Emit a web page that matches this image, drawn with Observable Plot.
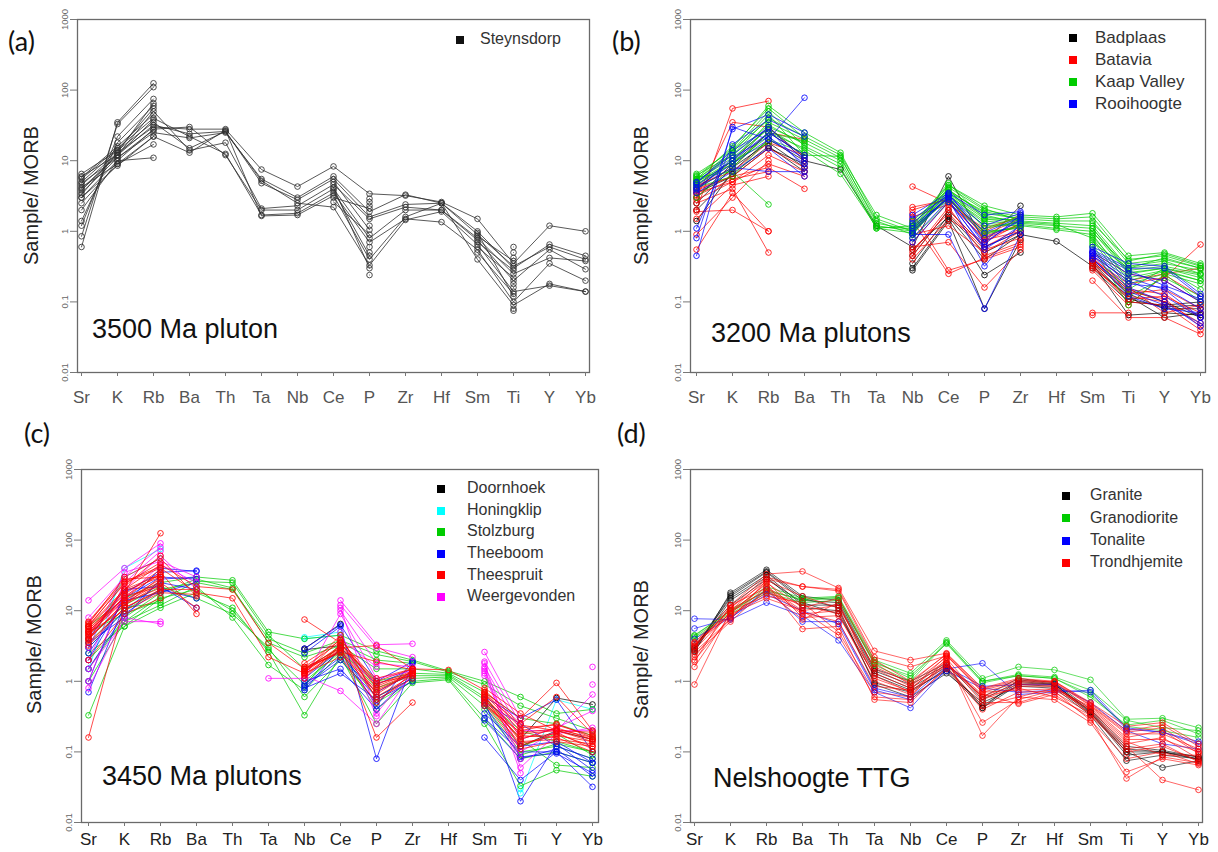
<!DOCTYPE html>
<html>
<head>
<meta charset="utf-8">
<script src="https://cdn.jsdelivr.net/npm/d3@7"></script>
<script src="https://cdn.jsdelivr.net/npm/@observablehq/plot@0.6"></script>
<style>
  html, body { margin: 0; padding: 0; background: #fff; }
  #wrap { position: relative; width: 1218px; height: 852px; background: #fff; font-family: "Liberation Sans", Arial, sans-serif; overflow: hidden; }
  .panel { position: absolute; }
  .abs { position: absolute; white-space: nowrap; }
  .plabel { font-family: Lato, "Open Sans", sans-serif; font-size: 27px; color: #111; }
  .ylab { font-size: 20px; color: #222; transform: rotate(-90deg); transform-origin: center center; }
  .ptitle { font-size: 27px; color: #111; }
  .leg { font-size: 16px; color: #333; line-height: 1; }
  .sq { position: absolute; width: 8px; height: 8px; }
</style>
</head>
<body>
<div id="wrap"></div>
<script>
const _ = null;
const elements = ["Sr","K","Rb","Ba","Th","Ta","Nb","Ce","P","Zr","Hf","Sm","Ti","Y","Yb"];
const yTicks = [0.01, 0.1, 1, 10, 100, 1000];
const yTickLabels = ["0.01", "0.1", "1", "10", "100", "1000"];

// ---------- (a) 3500 Ma pluton ----------
const steynsdorp = [
  [4.5,13,30,28,28,7.5,4.3,8.3,3.4,3.2,2.6,1.5,0.35,1.2,1.0],
  [3.5,11,25,21,25,5.5,3.0,6.0,1.9,3.3,2.5,1.0,0.30,0.65,0.45],
  [5.0,14,35,15,26,4.8,2.8,5.5,1.6,2.4,2.5,0.9,0.32,0.60,0.40],
  [4.0,12,50,14,18,2.1,2.3,4.6,1.5,2.2,2.0,0.8,0.25,0.42,0.38],
  [3.0,10,28,30,12,2.0,2.0,4.0,0.8,2.0,2.0,0.75,0.20,0.55,0.29],
  [5.5,15,40,22,12.5,1.7,1.8,3.5,0.7,1.5,1.35,0.55,0.10,0.35,0.20],
  [4.2,9,22,13,27,1.65,1.7,3.2,0.4,1.6,2.5,0.4,0.09,0.18,0.14],
  [3.8,12,32,24,26,5.2,2.5,2.2,0.33,1.45,1.9,0.65,0.14,0.17,0.14],
  [0.6,35,125,_,_,_,_,_,2.9,_,_,_,0.60,_,_],
  [0.85,33,110,_,_,_,_,_,2.6,_,_,_,0.50,_,_],
  [1.2,22,75,_,_,_,_,_,2.3,_,_,_,0.42,_,_],
  [1.4,18,60,_,_,_,_,_,1.2,_,_,_,0.075,_,_],
  [2.0,10,11,_,_,_,_,_,0.6,_,_,_,0.08,_,_],
  [2.5,9,17,_,_,_,_,_,0.5,_,_,_,0.16,_,_],
  [3.0,8.5,22,_,_,_,_,_,0.24,_,_,_,0.18,_,_],
  [5.8,16,45,_,_,_,_,5.0,1.05,_,_,0.95,0.12,_,_],
  [6.5,14,55,_,_,_,_,4.2,0.3,_,_,0.85,0.38,_,_],
  [6.0,12,38,_,_,_,_,3.8,0.45,_,_,0.7,0.28,_,_],
  [4.8,11,27,_,_,_,_,3.0,2.1,_,_,0.6,0.22,_,_],
  [3.3,13,65,_,_,_,_,2.6,0.9,_,_,0.5,0.13,_,_]
];

// ---------- (b) 3200 Ma plutons ----------
const badplaas = [
  [1.4,7,20,10,7.5,1.2,0.6,6.0,0.7,2.3,_,0.4,0.15,0.1,0.06],
  [2.5,8,18,8,_,_,0.3,1.5,0.24,0.5,_,0.35,0.065,0.07,0.065],
  [3.0,9,25,12,_,_,0.28,1.4,0.08,0.75,_,0.3,0.1,0.09,0.1],
  [3.5,6,15,9,_,_,0.35,1.7,0.5,0.9,0.72,0.32,0.12,0.06,0.07],
  [4.0,10,30,11,_,_,0.45,2.0,0.6,1.0,_,0.38,0.13,0.08,0.08],
  [2.0,6.5,16,7,_,_,0.55,1.6,0.4,0.9,_,0.36,0.11,0.085,0.09]
];
const batavia = [
  [2.0,55,70,_,_,_,4.3,2.5,0.8,1.2,_,0.4,0.18,0.22,0.65],
  [1.9,2.0,1.0,_,_,_,2.2,2.8,1.0,1.7,_,0.45,0.2,0.25,0.3],
  [0.55,3.5,1.0,_,_,_,1.8,0.28,0.4,0.6,_,0.2,0.06,0.06,0.035],
  [2.5,4.0,0.5,_,_,_,1.4,0.25,0.42,0.65,_,0.07,0.07,_,_],
  [3.0,35,30,10,_,_,0.9,1.2,0.5,1.0,_,0.065,_,_,_],
  [4.0,6,15,8,_,_,0.6,0.7,0.16,0.55,_,0.35,0.1,0.09,0.04],
  [3.5,5,12,7,_,_,0.5,2.2,0.45,0.7,_,0.3,0.12,0.1,0.05],
  [4.5,7,18,12,_,_,0.45,2.0,0.6,1.1,_,0.4,0.15,0.13,0.06],
  [2.8,5,9,6,_,_,0.4,1.5,0.7,1.3,_,0.38,0.13,0.15,0.08],
  [3.8,6,8,4,_,_,0.7,2.6,0.75,1.0,_,0.32,0.11,0.12,0.07],
  [1.5,4.5,6,_,_,_,1.0,3.0,0.9,1.5,_,0.5,0.25,0.2,0.1],
  [4.2,8,25,20,_,_,1.6,2.4,1.1,1.6,_,0.42,0.16,0.07,0.09],
  [0.9,3.0,10,_,_,_,0.55,1.8,0.55,0.8,_,0.28,0.09,0.24,0.12],
  [3.2,5.5,7,_,_,_,2.0,2.9,0.85,1.25,_,0.36,0.14,0.11,0.045]
];
const kaapValley = [
  [5.5,12,40,22,12,1.7,1.1,4.5,2.3,1.7,1.6,1.8,0.45,0.5,0.35],
  [6.0,15,60,25,13,1.5,1.0,4.2,2.0,1.6,1.5,1.6,0.38,0.48,0.33],
  [5.0,10,35,20,11,1.4,0.9,3.8,1.8,1.5,1.4,1.4,0.35,0.40,0.30],
  [4.5,9,30,18,10,1.2,1.0,3.5,1.6,1.4,1.3,1.2,0.30,0.35,0.28],
  [6.5,14,50,16,9,1.1,1.2,4.8,1.5,1.3,1.2,1.1,0.28,0.32,0.25],
  [4.0,8,25,15,8,1.1,0.95,3.2,1.4,1.25,1.1,1.0,0.25,0.30,0.22],
  [5.2,11,28,14,6.5,1.15,1.1,3.0,1.2,1.2,1.05,0.9,0.2,0.27,0.2],
  [4.8,13,45,12,11.5,1.3,1.05,4.0,1.1,1.35,1.25,0.8,0.18,0.25,0.18],
  [5.8,7,2.4,_,_,_,1.3,3.6,1.9,1.5,_,0.7,0.3,0.42,0.3],
  [5.5,16,55,21,_,_,1.2,4.5,2.1,1.4,_,1.3,0.4,0.45,0.32],
  [4.2,6,20,13,_,_,1.4,3.9,1.7,1.3,_,0.95,0.32,0.38,0.25],
  [6.2,12,32,17,_,_,0.9,3.3,1.3,1.2,_,0.85,0.22,0.28,0.2],
  [5.0,9,22,_,_,_,1.1,2.8,1.0,1.1,_,0.75,0.15,0.3,0.15],
  [4.6,10,18,_,_,_,1.0,3.0,0.95,1.15,_,0.65,0.12,0.22,0.12],
  [3.0,8,25,19,_,_,0.8,2.6,0.9,1.2,_,0.6,0.09,0.25,0.1],
  [5.3,14,38,_,_,_,1.15,3.4,1.5,1.45,_,1.1,0.26,0.3,0.24]
];
const rooihoogte = [
  [0.45,30,20,78,_,_,1.7,3.5,1.7,1.9,_,0.6,0.35,0.32,0.13],
  [0.8,28,45,25,_,_,1.5,3.2,1.2,1.8,_,0.55,0.3,0.3,0.12],
  [1.1,17,38,22,_,_,1.0,3.3,0.95,1.6,_,0.5,0.25,0.2,0.1],
  [4.0,8,7,7,_,_,0.9,0.9,0.08,0.9,_,0.45,0.2,0.12,0.06],
  [4.5,10,25,12,_,_,0.8,2.8,0.55,1.2,_,0.4,0.14,0.09,0.05],
  [5.0,12,30,10,_,_,1.1,3.0,0.7,1.5,_,0.45,0.16,0.1,0.045],
  [3.5,7,15,6,_,_,0.7,2.6,0.6,1.0,_,0.42,0.12,0.08,0.07],
  [4.2,9,20,11,_,_,1.2,2.9,0.32,1.3,_,0.5,0.18,0.16,0.08],
  [4.8,14,28,8,_,_,0.95,3.1,0.65,1.7,_,0.48,0.22,0.15,0.06],
  [3.8,11,22,9,_,_,1.3,3.4,0.8,1.4,_,0.52,0.28,0.17,0.11]
];

// ---------- (c) 3450 Ma plutons ----------
const doornhoek = [
  [_,_,_,_,_,_,2.9,6.5,_,_,_,_,0.15,0.58,0.47],
  [_,_,_,_,_,_,2.8,3.2,_,_,_,_,0.12,0.2,0.15]
];
const honingklip = [
  [1.5,40,75,_,_,_,4.2,5,_,_,_,_,0.026,0.55,0.4],
  [3,30,55,_,_,_,4.0,4.5,_,_,_,_,0.03,_,_]
];
const stolzburg = [
  [6,15,25,30,27,5,4,4.5,2.7,2.0,1.4,1.0,0.6,0.35,0.4],
  [3,10,20,25,20,4,2.5,3.8,2.4,1.9,1.35,0.9,0.45,0.3,0.2],
  [1.5,8,18,28,21,3.5,2.2,3.2,1.5,1.5,1.3,0.7,0.3,0.25,0.17],
  [0.33,6,15,20,10,2.8,0.9,2.8,0.8,1.2,1.2,0.55,0.2,0.14,0.1],
  [2,7,12,22,8,1.7,0.75,2.5,0.6,1.1,1.15,0.45,0.1,0.12,0.08],
  [4,12,22,15,9,3.0,0.6,2.0,0.5,1.0,1.1,0.3,0.08,0.1,0.07],
  [2.5,6,11,18,11,2.6,0.33,2.3,0.25,0.95,1.05,0.25,0.033,0.055,0.045],
  [5,9,14,26,25,4.5,1.5,3.0,1.0,1.3,1.25,0.6,0.15,0.065,0.06],
  [1,7,16,_,_,_,1.0,2.6,0.4,1.05,_,0.5,0.12,0.18,0.09],
  [3.5,11,13,_,_,_,0.85,3.5,2.0,1.8,_,0.4,0.09,0.13,0.1]
];
const theeboom = [
  [1,18,35,37,_,_,2.9,6.3,1.0,1.9,_,0.6,0.3,0.55,0.1],
  [0.7,12,40,36,_,_,2.5,6.0,0.08,1.8,_,0.5,0.25,0.12,0.08],
  [2,15,30,28,_,_,1.0,1.5,0.4,1.2,_,0.3,0.1,0.1,0.07],
  [3,10,25,20,_,_,0.8,1.3,0.55,1.0,_,0.16,0.04,0.1,0.032],
  [1.5,9,20,15,_,_,0.85,2.0,0.6,1.1,_,0.28,0.08,0.11,0.045],
  [4,20,22,11,_,_,0.9,2.2,0.7,1.3,_,0.45,0.085,0.095,0.05],
  [2.5,14,18,25,_,_,1.1,2.8,0.45,1.9,_,0.55,0.02,0.13,0.055],
  [3.5,8,28,30,_,_,0.75,3.0,0.9,1.5,_,0.35,0.12,0.14,0.07]
];
const weergevonden = [
  [14,40,90,_,_,_,_,14,3.3,3.4,_,2.6,0.3,_,1.6],
  [8,30,80,_,_,_,_,12,3.0,2.2,_,1.9,0.25,_,0.9],
  [2,25,70,_,_,_,_,10,1.8,1.6,_,1.6,0.2,0.2,0.65],
  [1,20,60,20,_,1.1,1.1,9,1.1,1.4,_,1.4,0.15,0.22,0.38],
  [0.8,8,6.5,_,_,_,1.2,0.73,0.25,1.3,_,1.3,0.1,0.2,0.2],
  [1.5,7,7,_,_,_,_,11,0.35,1.5,_,1.8,0.06,0.18,0.22],
  [3,35,50,30,_,_,_,5,0.32,_,_,1.5,0.05,_,_],
  [5,15,45,25,_,_,_,4,1.6,_,_,1.2,0.08,_,_]
];
const theespruit = [
  [5,18,125,_,_,_,7.5,3.5,0.9,1.4,_,0.7,0.3,0.95,0.2],
  [4.5,20,45,22,20,3.5,1.5,3.0,1.1,1.5,1.45,0.75,0.25,0.6,0.18],
  [6,25,40,18,15,2.2,1.3,4.0,0.8,1.3,_,0.65,0.2,0.25,0.16],
  [0.16,12,30,_,_,_,1.4,3.2,0.16,0.5,_,0.8,0.35,0.2,0.15],
  [5.5,15,35,9,_,_,1.2,2.8,0.6,1.2,_,0.6,0.18,0.2,0.14],
  [4,13,25,11,_,_,1.6,2.5,0.7,1.4,_,0.55,0.15,0.22,0.15],
  [6.5,30,55,16,_,_,1.8,3.8,1.0,1.5,_,0.5,0.16,0.18,0.12],
  [3.5,11,20,20,_,_,1.4,4.5,0.55,1.1,_,0.62,0.14,0.15,0.13],
  [5,10,18,17,_,_,1.3,2.2,0.5,1.3,_,0.58,0.12,0.19,0.11],
  [7,28,30,_,_,_,1.35,3.0,3.2,1.5,_,0.52,0.13,0.17,0.14],
  [4.8,16,22,_,_,_,1.5,2.6,1.9,1.45,_,0.45,0.19,0.21,0.16],
  [5.2,14,28,_,_,_,1.25,2.9,0.85,1.35,_,0.7,0.22,0.24,0.17],
  [3.8,22,60,_,_,_,1.1,3.3,0.95,1.2,_,0.6,0.17,0.16,0.1],
  [4.2,12,24,_,_,_,1.45,2.7,0.75,1.25,_,0.48,0.11,0.14,0.12],
  [6,20,32,_,_,_,1.6,3.6,0.65,1.4,_,0.66,0.24,0.2,0.19],
  [2,9,15,_,_,_,_,_,_,_,_,_,_,_,_],
  [5.5,17,38,_,_,_,_,_,_,_,_,_,_,_,_],
  [4.6,14,26,_,_,_,_,_,_,_,_,_,_,_,_],
  [6.2,24,48,_,_,_,_,_,_,_,_,_,_,_,_],
  [3.2,11,19,_,_,_,_,_,_,_,_,_,_,_,_],
  [5.8,19,30,_,_,_,_,_,_,_,_,_,_,_,_],
  [4.4,16,33,_,_,_,_,_,_,_,_,_,_,_,_],
  [6.8,26,42,_,_,_,_,_,_,_,_,_,_,_,_],
  [3.9,13,21,_,_,_,_,_,_,_,_,_,_,_,_]
];

// ---------- (d) Nelshoogte TTG ----------
const granite = [
  [2.6,18,38,16,14,1.5,1.0,1.8,0.6,1.1,0.95,0.4,0.12,0.105,0.085],
  [2.8,16,35,14,13,1.4,0.9,1.7,0.55,1.0,0.9,0.38,0.11,0.1,0.08],
  [3.0,15,32,12,12,1.3,0.8,1.6,0.42,0.9,0.85,0.35,0.1,0.06,0.075],
  [2.7,14,30,11,10,0.95,0.7,1.5,0.45,0.95,0.9,0.36,0.09,0.1,0.085],
  [2.9,17,36,15,11,0.9,0.6,1.3,0.5,0.85,0.8,0.33,0.075,0.09,0.08],
  [3.2,12,28,13,9,1.2,0.75,1.4,0.42,1.05,0.92,0.37,0.1,0.1,0.078]
];
const granodiorite = [
  [4.5,10,22,15,16,2.0,1.3,3.8,1.1,1.6,1.45,1.05,0.29,0.3,0.22],
  [4.2,9.5,20,14,15,1.9,1.1,3.6,1.0,1.25,1.15,0.75,0.28,0.22,0.2],
  [4.0,9,18,13,14,1.8,1.2,3.4,0.95,1.2,1.1,0.65,0.23,0.2,0.16],
  [4.4,10,19,14.5,15.5,1.7,1.0,3.5,1.0,1.2,1.1,0.6,0.24,0.28,0.18]
];
const tonalite = [
  [7.7,7.5,13,8.5,3.8,0.7,0.42,1.5,1.8,0.65,0.7,0.75,0.22,0.19,0.13],
  [5.6,7.8,20,7,7,0.8,0.6,1.6,0.85,0.9,0.9,0.5,0.2,0.13,0.11],
  [4.0,8,17,10,6.5,0.75,0.55,1.4,0.8,0.7,0.75,0.7,0.21,0.19,0.14]
];
const trondhjemite = [
  [3.5,12,33,36,21,2.7,2.0,2.5,0.8,1.1,1.0,0.5,0.23,0.26,0.13],
  [3.0,11,30,22,20,2.2,1.6,2.3,0.75,1.0,1.0,0.48,0.2,0.24,0.12],
  [0.9,10,28,22,19,2.0,1.0,2.4,0.7,0.95,0.95,0.45,0.18,0.18,0.11],
  [1.6,9,25,11,15,1.8,0.9,2.2,0.17,0.6,0.8,0.42,0.15,0.15,0.1],
  [2.0,8,22,10,12,1.5,0.85,2.0,0.26,0.55,0.75,0.4,0.14,0.09,0.09],
  [2.4,7,20,9,10,1.3,0.8,1.9,0.5,0.5,0.7,0.35,0.12,0.04,0.029],
  [3.2,11,26,8,8.5,1.2,0.7,1.8,0.65,0.48,0.65,0.3,0.042,0.085,0.07],
  [2.8,9.5,24,5.5,6,0.55,0.5,1.6,0.45,0.6,0.55,0.26,0.052,0.08,0.065],
  [3.4,8.5,18,12,9,1.0,0.65,1.7,0.6,0.8,0.6,0.33,0.1,0.12,0.075],
  [2.2,10,16,13,5,0.7,0.6,2.1,0.55,0.85,0.85,0.38,0.13,0.16,0.08],
  [1.9,12,21,9.5,7,0.85,0.75,2.3,0.7,0.75,0.78,0.44,0.16,0.2,0.095],
  [3.6,9,15,10,4.5,0.6,0.55,1.5,0.4,0.7,0.72,0.28,0.08,0.1,0.068],
  [2.6,7.5,27,16,11,1.6,0.95,2.45,0.78,1.05,0.98,0.46,0.19,0.22,0.1],
  [3.1,10.5,19,7.5,13,1.1,0.72,1.75,0.62,0.9,0.88,0.34,0.11,0.13,0.072]
];

// ---------- panel definitions ----------
const panelA = { names: ["Steynsdorp"], colors: ["#303030"], rows: [steynsdorp] };
const panelB = { names: ["Badplaas","Batavia","Kaap Valley","Rooihoogte"], colors: ["#000000","#ff0000","#00cc00","#0000ff"], rows: [badplaas, batavia, kaapValley, rooihoogte] };
const panelC = { names: ["Doornhoek","Honingklip","Stolzburg","Theeboom","Theespruit","Weergevonden"], colors: ["#000000","#00ffff","#00cc00","#0000ff","#ff0000","#ff00ff"], rows: [doornhoek, honingklip, stolzburg, theeboom, theespruit, weergevonden], drawOrder: [0,1,2,3,5,4] };
const panelD = { names: ["Granite","Granodiorite","Tonalite","Trondhjemite"], colors: ["#000000","#00cc00","#0000ff","#ff0000"], rows: [granite, granodiorite, tonalite, trondhjemite] };

function tidy(panel) {
  const order = panel.drawOrder || panel.names.map((d, i) => i);
  const out = [];
  for (const gi of order) {
    panel.rows[gi].forEach((row, si) => {
      row.forEach((v, ei) => {
        out.push({ el: elements[ei], v: v, s: panel.names[gi] + "_" + si, g: panel.names[gi] });
      });
    });
  }
  return out;
}

const wrap = document.getElementById("wrap");

function addDiv(cls, text, css) {
  const d = document.createElement("div");
  d.className = cls;
  if (text != null) d.textContent = text;
  Object.assign(d.style, css);
  wrap.appendChild(d);
  return d;
}

function drawPanel(panel, opt) {
  const data = tidy(panel);
  const svg = Plot.plot({
    width: opt.width, height: opt.height,
    marginLeft: opt.ml, marginRight: opt.mr, marginTop: opt.mt, marginBottom: opt.mb,
    style: { fontFamily: "'Liberation Sans', Arial, sans-serif", background: "transparent", overflow: "visible" },
    x: { type: "point", domain: elements, padding: 0 },
    y: { type: "log", domain: [0.01, 1000] },
    color: { domain: panel.names, range: panel.colors },
    marks: [
      Plot.frame({ stroke: "#6a6a6a", strokeWidth: 1.3 }),
      Plot.axisX({ tickSize: 4, tickPadding: opt.xPad, fontSize: opt.xFont, fill: opt.xFill, label: null, stroke: "#777" }),
      Plot.axisY({ ticks: yTicks, tickFormat: (d) => yTickLabels[yTicks.indexOf(d)], tickRotate: -90, fontSize: 9.5, tickSize: 7, tickPadding: 3, fill: "#666", stroke: "#777", label: null }),
      Plot.line(data, { x: "el", y: "v", z: "s", stroke: "g", strokeWidth: 1, strokeOpacity: opt.lineOpacity }),
      Plot.dot(data, { x: "el", y: "v", stroke: "g", r: 2.8, strokeWidth: 1, strokeOpacity: opt.dotOpacity, fill: "none" })
    ]
  });
  const holder = document.createElement("div");
  holder.className = "panel";
  holder.style.left = opt.left + "px";
  holder.style.top = opt.top + "px";
  holder.appendChild(svg);
  wrap.appendChild(holder);

  addDiv("abs plabel", opt.letter, { left: opt.letterX + "px", top: opt.letterY + "px" });
  addDiv("abs ylab", "Sample/ MORB", { left: (opt.ylabX - 80) + "px", top: (opt.ylabY - 12) + "px", width: "160px", textAlign: "center" });
  addDiv("abs ptitle", opt.title, { left: opt.titleX + "px", top: opt.titleY + "px" });
  panel.names.forEach((n, i) => {
    const y = opt.legY + i * opt.legStep;
    addDiv("sq", null, { left: opt.sqX + "px", top: (y - 4) + "px", background: panel.colors[i] === "#303030" ? "#111" : panel.colors[i] });
    addDiv("abs leg", n, { left: opt.legX + "px", top: (y - opt.legFont * 0.55) + "px", fontSize: opt.legFont + "px" });
  });
}

drawPanel(panelA, {
  left: 0, top: 0, width: 609, height: 420, ml: 77, mr: 20, mt: 19, mb: 48,
  xPad: 14, xFont: 17, xFill: "#555", lineOpacity: 0.8, dotOpacity: 0.85,
  letter: "(a)", letterX: 8, letterY: 24, ylabX: 31, ylabY: 196,
  title: "3500 Ma pluton", titleX: 92, titleY: 314,
  legY: 40, legStep: 22, sqX: 456, legX: 480, legFont: 16
});
drawPanel(panelB, {
  left: 609, top: 0, width: 609, height: 420, ml: 81, mr: 13, mt: 19, mb: 48,
  xPad: 14, xFont: 17, xFill: "#555", lineOpacity: 0.7, dotOpacity: 0.85,
  letter: "(b)", letterX: 612, letterY: 24, ylabX: 641, ylabY: 196,
  title: "3200 Ma plutons", titleX: 711, titleY: 318,
  legY: 38, legStep: 22, sqX: 1069, legX: 1095, legFont: 17
});
drawPanel(panelC, {
  left: 0, top: 420, width: 609, height: 432, ml: 81, mr: 11, mt: 49, mb: 30,
  xPad: 6, xFont: 17, xFill: "#222", lineOpacity: 0.7, dotOpacity: 0.85,
  letter: "(c)", letterX: 24, letterY: 416, ylabX: 34, ylabY: 645,
  title: "3450 Ma plutons", titleX: 102, titleY: 761,
  legY: 489, legStep: 21.6, sqX: 437, legX: 467, legFont: 16
});
drawPanel(panelD, {
  left: 609, top: 420, width: 609, height: 432, ml: 81, mr: 16, mt: 49, mb: 30,
  xPad: 6, xFont: 17, xFill: "#222", lineOpacity: 0.6, dotOpacity: 0.75,
  letter: "(d)", letterX: 617, letterY: 416, ylabX: 641, ylabY: 650,
  title: "Nelshoogte TTG", titleX: 713, titleY: 763,
  legY: 496, legStep: 22.3, sqX: 1062, legX: 1090, legFont: 16
});
</script>
</body>
</html>
